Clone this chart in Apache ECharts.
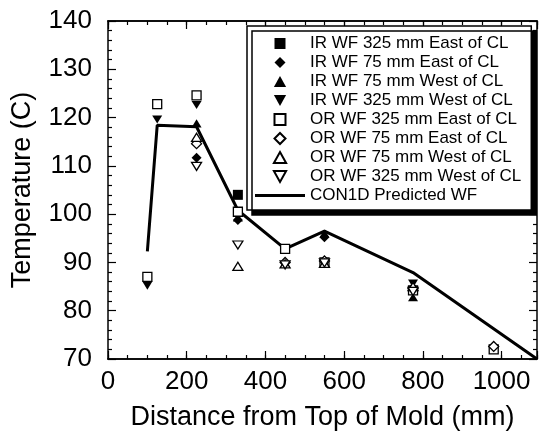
<!DOCTYPE html>
<html>
<head>
<meta charset="utf-8">
<script src="https://cdn.jsdelivr.net/npm/echarts@6/dist/echarts.min.js"></script>
<style>
html,body{margin:0;padding:0;background:#fff}
#chart{width:540px;height:438px}
</style>
</head>
<body>
<div id="chart"></div>
<script>
// measured wide face temperatures, [distance mm, temperature C]
const irWf325East = [[330, 104.0]]
const irWf75East = [[225, 111.7], [330, 98.8], [550, 95.2]]
const irWf75West = [[225, 118.8], [330, 99.3], [550, 96.0], [775, 82.8]]
const irWf325West = [[100, 85.2], [125, 119.6], [225, 122.6], [775, 85.6]]
const orWf325East = [[100, 87.0], [125, 122.8], [225, 124.6], [330, 100.5], [450, 92.8], [550, 90.0], [775, 84.2], [980, 72.0]]
const orWf75East = [[225, 114.6], [450, 90.0], [550, 90.3], [775, 84.6], [980, 72.6]]
const orWf75West = [[225, 115.9], [330, 89.2], [450, 89.7], [550, 89.8], [775, 85.0]]
const orWf325West = [[225, 109.9], [330, 93.6], [450, 89.5], [550, 89.9], [775, 84.0]]

// CON1D prediction
const con1dDistance = [100, 125, 225, 330, 450, 550, 775, 1090]
const con1dTemp = [92.3, 118.4, 118.1, 100.8, 92.8, 96.5, 87.9, 70.0]

// axes
const xMin = 0, xMax = 1090, xStep = 200, xMinorStep = 50
const yMin = 70, yMax = 140, yStep = 10

const font = 'Liberation Sans'
const square = 'path://M0,0H10V10H0Z'
const diamond = 'path://M5,0L10,5L5,10L0,5Z'
const upTri = 'path://M5,0L10,9L0,9Z'
const downTri = 'path://M0,0L10,0L5,9Z'

let myChart = echarts.init(document.getElementById('chart'))

const filled = { color: '#000', opacity: 1 }
const open = { color: '#fff', borderColor: '#000', borderWidth: 1.3, opacity: 1 }

function pts(name, data, symbol, size, style) {
	return {
		name: name, type: 'scatter', data: data,
		symbol: symbol, symbolSize: size, symbolKeepAspect: true,
		itemStyle: style, z: 3
	}
}

function xAx(pos, step, len, labels) {
	return {
		type: 'value', position: pos, min: xMin, max: xMax, interval: step,
		axisLine: { show: true, onZero: false, lineStyle: { color: '#000', width: 1.5 } },
		axisTick: { show: true, inside: true, length: len, lineStyle: { color: '#000', width: 1.2 } },
		axisLabel: labels ? {
			show: true, color: '#000', fontFamily: font, fontSize: 26, margin: 10,
			formatter: v => (v % xStep === 0 ? String(v) : '')
		} : { show: false },
		splitLine: { show: false },
		name: labels ? 'Distance from Top of Mold (mm)' : '',
		nameLocation: 'middle', nameGap: 45,
		nameTextStyle: { color: '#000', fontFamily: font, fontSize: 27 }
	}
}

function yAx(pos, labels) {
	return {
		type: 'value', position: pos, min: yMin, max: yMax, interval: yStep,
		axisLine: { show: true, onZero: false, lineStyle: { color: '#000', width: 1.5 } },
		axisTick: { show: true, inside: true, length: 8, lineStyle: { color: '#000', width: 1.2 } },
		minorTick: { show: true, splitNumber: 5, length: 4, lineStyle: { color: '#000', width: 1.2 } },
		axisLabel: labels ? { show: true, color: '#000', fontFamily: font, fontSize: 26, margin: 16 } : { show: false },
		splitLine: { show: false },
		name: labels ? 'Temperature (C)' : '',
		nameLocation: 'middle', nameGap: 72,
		nameTextStyle: { color: '#000', fontFamily: font, fontSize: 27 }
	}
}

let option = {
	animation: false,
	backgroundColor: '#fff',
	grid: { left: 108, right: 3, top: 21, bottom: 79, outerBoundsMode: 'none' },
	legend: {
		orient: 'vertical', left: 247, top: 26,
		padding: [9, 10, 6, 8],
		itemWidth: 50, itemHeight: 11, itemGap: 2,
		backgroundColor: '#fff', borderColor: '#000', borderWidth: 1.5,
		shadowColor: '#000', shadowBlur: 0, shadowOffsetX: 5, shadowOffsetY: 5,
		textStyle: { color: '#000', fontFamily: font, fontSize: 17 },
		data: [
			'IR WF 325 mm East of CL', 'IR WF 75 mm East of CL', 'IR WF 75 mm West of CL', 'IR WF 325 mm West of CL',
			'OR WF 325 mm East of CL', 'OR WF 75 mm East of CL', 'OR WF 75 mm West of CL', 'OR WF 325 mm West of CL',
			{ name: 'CON1D Predicted WF', icon: 'path://M0,0H50V3H0Z' }
		]
	},
	xAxis: [
		xAx('bottom', xStep, 8, true),
		xAx('bottom', xMinorStep, 4, false),
		xAx('top', xStep, 8, false),
		xAx('top', xMinorStep, 4, false)
	],
	yAxis: [yAx('left', true), yAx('right', false)],
	series: [
		{
			name: 'CON1D Predicted WF', type: 'line',
			data: con1dDistance.map((d, i) => [d, con1dTemp[i]]),
			symbol: 'none', z: 2,
			lineStyle: { color: '#000', width: 3, opacity: 1 },
			itemStyle: { color: '#000' }
		},
		pts('IR WF 325 mm East of CL', irWf325East, square, 10, filled),
		pts('IR WF 75 mm East of CL', irWf75East, diamond, 10, filled),
		pts('IR WF 75 mm West of CL', irWf75West, upTri, [10, 9], filled),
		pts('IR WF 325 mm West of CL', irWf325West, downTri, [10, 9], filled),
		pts('OR WF 325 mm East of CL', orWf325East, square, 9, open),
		pts('OR WF 75 mm East of CL', orWf75East, diamond, 10, open),
		pts('OR WF 75 mm West of CL', orWf75West, upTri, [10, 9], open),
		pts('OR WF 325 mm West of CL', orWf325West, downTri, [10, 9], open)
	]
}

myChart.clear()
myChart.setOption(option)
window.onresize = function () {
	myChart.resize()
}
</script>
</body>
</html>
